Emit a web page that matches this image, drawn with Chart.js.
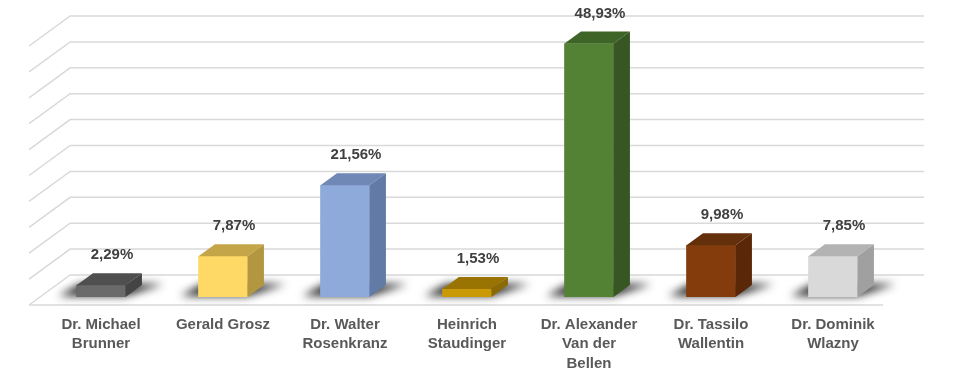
<!DOCTYPE html>
<html>
<head>
<meta charset="utf-8">
<script src="https://cdn.jsdelivr.net/npm/chart.js"></script>
<style>
  html, body { margin: 0; padding: 0; background: #fff; }
  #wrap { width: 958px; height: 377px; }
</style>
</head>
<body>
<div id="wrap"><canvas id="chart"></canvas></div>
<script>
// Kandidaten und Stimmanteile (%)
const candidates = [
  ['Dr. Michael', 'Brunner'],
  'Gerald Grosz',
  ['Dr. Walter', 'Rosenkranz'],
  ['Heinrich', 'Staudinger'],
  ['Dr. Alexander', 'Van der', 'Bellen'],
  ['Dr. Tassilo', 'Wallentin'],
  ['Dr. Dominik', 'Wlazny'],
];
const shares = [2.29, 7.87, 21.56, 1.53, 48.93, 9.98, 7.85];
const shareLabels = ['2,29%', '7,87%', '21,56%', '1,53%', '48,93%', '9,98%', '7,85%'];

// Farben: Vorderseite, Deckel, Seite
const frontColors = ['#6a6a6a', '#ffd966', '#8eaadb', '#c99a06', '#548235', '#843c0c', '#d9d9d9'];
const topColors = ['#4f4f4f', '#c4a548', '#7088b6', '#9a7402', '#3f6428', '#63300b', '#b3b3b3'];
const sideColors = ['#444444', '#b39640', '#627aa6', '#8a6a05', '#375623', '#5a2808', '#a0a0a0'];

// Tiefe der 3D-Darstellung (dy pro Ebene, dx = dy * 1.37)
const DX = 1.37;
const BAR_DEPTH = 12;
const WALL_DEPTH = 22;
const FLOOR_FRONT = -8;

const depth3d = {
  id: 'depth3d',
  beforeDatasetsDraw(chart) {
    const { ctx, chartArea: a, scales: { y } } = chart;
    ctx.save();
    // Rückwand + linke Seitenwand
    ctx.strokeStyle = '#d9d9d9';
    ctx.lineWidth = 1.5;
    y.ticks.forEach((t) => {
      const py = y.getPixelForValue(t.value);
      ctx.beginPath();
      ctx.moveTo(a.left + FLOOR_FRONT * DX, py - FLOOR_FRONT);
      ctx.lineTo(a.left + WALL_DEPTH * DX, py - WALL_DEPTH);
      ctx.lineTo(a.right + WALL_DEPTH * DX, py - WALL_DEPTH);
      ctx.stroke();
    });
    // Vorderkante Boden
    const p0 = y.getPixelForValue(0);
    ctx.beginPath();
    ctx.moveTo(a.left + FLOOR_FRONT * DX, p0 - FLOOR_FRONT);
    ctx.lineTo(a.right + FLOOR_FRONT * DX, p0 - FLOOR_FRONT);
    ctx.stroke();

    // Schatten unter den Säulen
    const meta = chart.getDatasetMeta(0);
    ctx.filter = 'blur(4px)';
    ctx.fillStyle = 'rgba(0,0,0,0.85)';
    meta.data.forEach((bar) => {
      const { x, base, width } = bar.getProps(['x', 'base', 'width'], true);
      const x1 = x - width / 2;
      const x2 = x + width / 2;
      ctx.beginPath();
      ctx.moveTo(x1 - 18, base - 1);
      ctx.lineTo(x2, base - 1);
      ctx.lineTo(x2 + 38, base - BAR_DEPTH - 1);
      ctx.lineTo(x1 + 4, base - BAR_DEPTH - 1);
      ctx.closePath();
      ctx.fill();
    });
    ctx.restore();
  },
  afterDatasetsDraw(chart) {
    const { ctx } = chart;
    const meta = chart.getDatasetMeta(0);
    const dx = BAR_DEPTH * DX;
    const dy = BAR_DEPTH;
    ctx.save();
    meta.data.forEach((bar, i) => {
      const { x, y, base, width } = bar.getProps(['x', 'y', 'base', 'width'], true);
      const x1 = x - width / 2;
      const x2 = x + width / 2;
      // Deckel
      ctx.fillStyle = topColors[i];
      ctx.beginPath();
      ctx.moveTo(x1, y);
      ctx.lineTo(x2, y);
      ctx.lineTo(x2 + dx, y - dy);
      ctx.lineTo(x1 + dx, y - dy);
      ctx.closePath();
      ctx.fill();
      // Seite
      ctx.fillStyle = sideColors[i];
      ctx.beginPath();
      ctx.moveTo(x2, y);
      ctx.lineTo(x2 + dx, y - dy);
      ctx.lineTo(x2 + dx, base - dy);
      ctx.lineTo(x2, base);
      ctx.closePath();
      ctx.fill();
      // Wert
      ctx.fillStyle = '#404040';
      ctx.font = 'bold 15px Arial, "Liberation Sans", sans-serif';
      ctx.textAlign = 'center';
      ctx.textBaseline = 'middle';
      ctx.fillText(shareLabels[i], x + 11, y - 30);
    });
    ctx.restore();
  },
};

new Chart(document.getElementById('chart'), {
  type: 'bar',
  data: {
    labels: candidates,
    datasets: [{
      data: shares,
      backgroundColor: frontColors,
      borderWidth: 0,
      barThickness: 49,
    }],
  },
  options: {
    responsive: true,
    maintainAspectRatio: false,
    animation: false,
    layout: { padding: { left: 32, right: 64, top: 38, bottom: 0 } },
    plugins: { legend: { display: false }, tooltip: { enabled: false } },
    scales: {
      x: {
        grid: { display: false, drawTicks: false },
        border: { display: false },
        afterFit(scale) { scale.height = 80; },
        ticks: {
          autoSkip: false,
          maxRotation: 0,
          padding: 18,
          color: '#595959',
          font: { family: 'Arial, "Liberation Sans", sans-serif', size: 15, weight: 'bold', lineHeight: 1.3 },
        },
      },
      y: {
        min: 0,
        max: 50,
        ticks: { display: false, stepSize: 5 },
        grid: { display: false },
        border: { display: false },
      },
    },
  },
  plugins: [depth3d],
});
</script>
</body>
</html>
